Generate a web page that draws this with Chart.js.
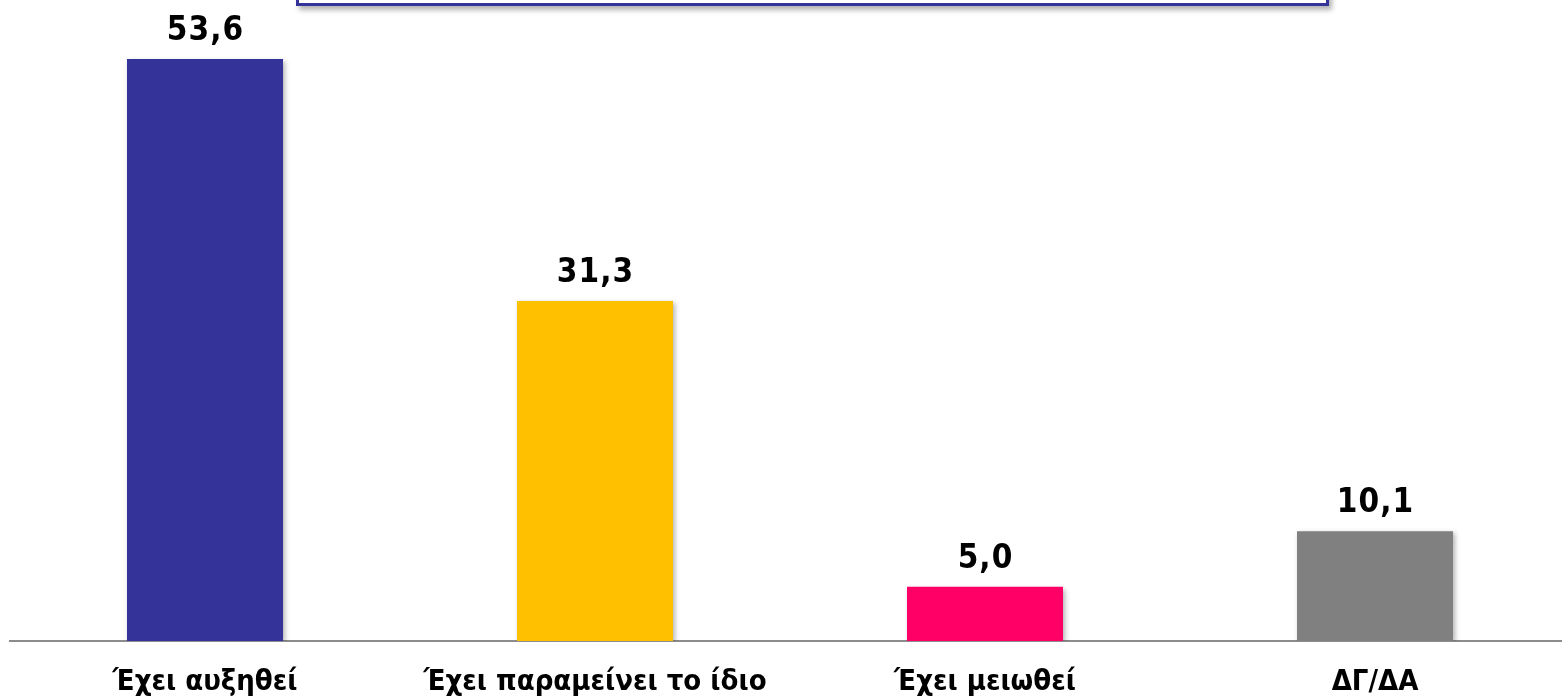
<!DOCTYPE html>
<html>
<head>
<meta charset="utf-8">
<script src="https://cdn.jsdelivr.net/npm/chart.js@4"></script>
<style>
  html, body { margin: 0; padding: 0; background: #fff; overflow: hidden; }
  #wrap { position: relative; width: 1570px; height: 698px; }
  #titleBox {
    position: absolute; left: 296px; top: -60px; width: 1027px; height: 60px;
    border: 3px solid #333399; background: #fff;
    box-shadow: 3px 4px 5px rgba(0,0,0,0.3); z-index: 2;
  }
</style>
</head>
<body>
<div id="wrap">
  <div id="titleBox"></div>
  <canvas id="answersChart"></canvas>
</div>
<script>
const categories = ["Έχει αυξηθεί", "Έχει παραμείνει το ίδιο", "Έχει μειωθεί", "ΔΓ/ΔΑ"];
const values = [53.6, 31.3, 5.0, 10.1];
const barColors = ["#333399", "#FFC000", "#FF0066", "#808080"];

const valueLabels = {
  id: "valueLabels",
  afterDatasetsDraw(chart) {
    const ctx = chart.ctx;
    const meta = chart.getDatasetMeta(0);
    ctx.save();
    ctx.font = "bold 33px 'DejaVu Sans Condensed', 'DejaVu Sans'";
    ctx.fillStyle = "#000";
    ctx.textAlign = "center";
    ctx.textBaseline = "alphabetic";
    if ("letterSpacing" in ctx) ctx.letterSpacing = "1px";
    meta.data.forEach((bar, i) => {
      const txt = values[i].toFixed(1).replace(".", ",");
      ctx.fillText(txt, bar.x + 0.5, bar.y - 19);
    });
    ctx.restore();
  }
};

const barShadow = {
  id: "barShadow",
  beforeDatasetsDraw(chart) {
    const ctx = chart.ctx;
    ctx.save();
    ctx.shadowColor = "rgba(0,0,0,0.3)";
    ctx.shadowBlur = 5;
    ctx.shadowOffsetX = 2;
    ctx.shadowOffsetY = 2;
  },
  afterDatasetsDraw(chart) {
    chart.ctx.restore();
  }
};

new Chart(document.getElementById("answersChart"), {
  type: "bar",
  data: {
    labels: categories,
    datasets: [
      {
        data: values,
        backgroundColor: barColors,
        borderWidth: 0,
        barPercentage: 0.4,
        categoryPercentage: 1,
      },
    ],
  },
  options: {
    responsive: true,
    maintainAspectRatio: false,
    animation: false,
    devicePixelRatio: 1,
    layout: { padding: { left: 10, right: 0, top: 0, bottom: 0 } },
    plugins: {
      legend: { display: false },
      tooltip: { enabled: false },
    },
    scales: {
      x: {
        grid: { display: false, drawTicks: false },
        border: { display: true, color: "#8c8c8c", width: 2 },
        ticks: {
          color: "#000",
          font: { family: "'DejaVu Sans Condensed', 'DejaVu Sans'", size: 29, weight: "bold" },
          padding: 24,
          maxRotation: 0,
        },
        afterFit(scale) { scale.height = 57; },
      },
      y: {
        display: false,
        min: 0,
        max: 59.03,
      },
    },
  },
  plugins: [barShadow, valueLabels],
});
</script>
</body>
</html>
